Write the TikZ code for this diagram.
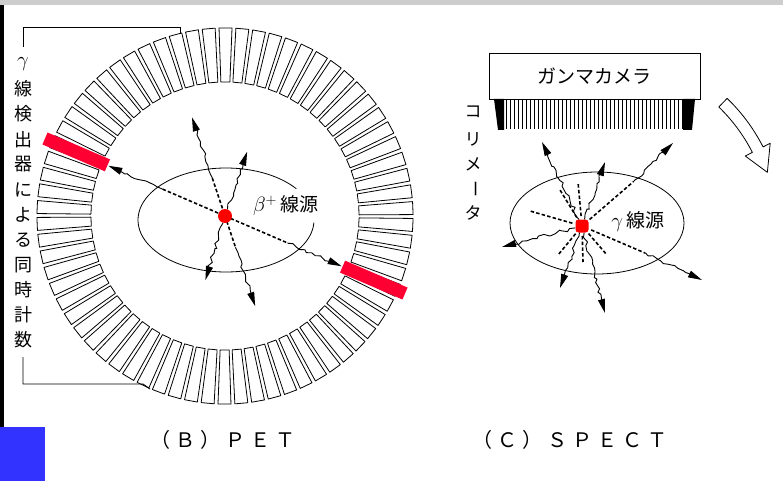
\documentclass[tikz,border=0pt]{standalone}
\usepackage{fontspec}
\newfontfamily\jp{Noto Sans CJK JP}
\newfontfamily\jpwide[LetterSpace=25]{Noto Sans CJK JP}
\usetikzlibrary{calc,decorations.pathmorphing,arrows.meta}
\definecolor{detred}{RGB}{255,0,51}
\definecolor{cornerblue}{RGB}{51,51,255}
\definecolor{stripgray}{RGB}{205,205,205}
\tikzset{
  module/.style={draw, line width=0.8pt, fill=white, line join=round},
  wavy/.style={decorate, line width=0.9pt,
    decoration={random steps, segment length=4pt, amplitude=1.8pt,
      pre=lineto, pre length=1pt, post=lineto, post length=12pt}},
  ray/.style={wavy, -{Triangle[length=14pt,width=7pt]}},
  dashray/.style={line width=1.6pt, dash pattern=on 3.5pt off 2.2pt},
  outline/.style={line width=0.8pt},
  vchar/.style={font=\jp\fontsize{18}{18}\selectfont, inner sep=0pt},
  caption/.style={font=\jpwide\fontsize{20}{20}\selectfont, inner sep=0pt},
}
\begin{document}
\begin{tikzpicture}[x=1pt,y=-1pt]
\useasboundingbox (0,0) rectangle (783,481);
\pgfmathsetseed{11}

% page furniture
\fill[stripgray] (0,0) rectangle (783,5);
\fill[black] (0,5) rectangle (4,427);
\fill[cornerblue] (0,427) rectangle (45,481);

% ================= PET =================
\coordinate (S) at (225,216);

% detector ring
\foreach \i in {0,...,69}{
  \pgfmathsetmacro\ang{2.73+\i*5.142857}
  \draw[module] ($(S)+(\ang:134)+(\ang+90:4.5)$) -- ($(S)+(\ang:188)+(\ang+90:6.5)$)
     -- ($(S)+(\ang:188)+(\ang-90:6.5)$) -- ($(S)+(\ang:134)+(\ang-90:4.5)$) -- cycle;
}

% coincident detectors
\foreach \ang in {23.3,203.3}{
  \fill[detred] ($(S)+(\ang:128)+(\ang+90:6.5)$) -- ($(S)+(\ang:196)+(\ang+90:6.5)$)
     -- ($(S)+(\ang:196)+(\ang-90:6.5)$) -- ($(S)+(\ang:128)+(\ang-90:6.5)$) -- cycle;
}

% source region
\draw[outline] plot[domain=3:323, samples=90, smooth] ({226+88*cos(\x)},{220+52*sin(\x)});

% annihilation pair
\coordinate (pa1) at ($(S)+(203.3:68)$);
\coordinate (pa2) at ($(S)+(23.3:68)$);
\coordinate (ta1) at ($(S)+(203.3:127)$);
\coordinate (ta2) at ($(S)+(23.3:127)$);
\draw[dashray] (pa1) -- (pa2);
\draw[ray] (pa1) -- (ta1);
\draw[ray] (pa2) -- (ta2);

% second pair
\coordinate (pb1) at ($(S)+(251.5:40)$);
\coordinate (pb2) at ($(S)+(71.5:33)$);
\coordinate (tb1) at ($(S)+(251.5:104)$);
\coordinate (tb2) at ($(S)+(71.5:95)$);
\draw[dashray] (pb1) -- (pb2);
\draw[ray] (pb1) -- (tb1);
\draw[ray] (pb2) -- (tb2);

% third pair
\coordinate (pc1) at ($(S)+(289:7)$);
\coordinate (pc2) at ($(S)+(107:7)$);
\coordinate (tc1) at ($(S)+(289:68)$);
\coordinate (tc2) at ($(S)+(107:67)$);
\draw[ray] (pc1) -- (tc1);
\draw[ray] (pc2) -- (tc2);

\node[circle, fill=red, minimum size=14pt, inner sep=0pt] (src) at (S) {};
\node[inner sep=0pt] (betalbl) at (286,206)
  {\fontsize{22}{22}\selectfont$\beta^{+}$\,{\jp\fontsize{19}{19}\selectfont 線源}};

% bracket and vertical label
\coordinate (bk1) at (23,47);
\coordinate (bk2) at (23,27);
\coordinate (bk3) at (180,27);
\coordinate (bk4) at (180,34);
\draw[line width=0.9pt] (bk1) -- (bk2) -- (bk3) -- (bk4);
\coordinate (bk5) at (23,357);
\coordinate (bk6) at (23,384);
\coordinate (bk7) at (143,384);
\coordinate (bk8) at (150,389);
\draw[line width=0.9pt] (bk5) -- (bk6) -- (bk7) -- (bk8);
\node[inner sep=0pt] (vg) at (23,64) {\fontsize{20}{20}\selectfont$\gamma$};
\foreach \c [count=\k] in {線,検,出,器,に,よ,る,同,時,計,数}{
  \node[vchar] (v\k) at (23,{64+25.1*\k}) {\c};
}

\node[caption] (capB) at (223,440) {（Ｂ）ＰＥＴ};

% ================= SPECT =================
\coordinate (T) at (582,226);

% gamma camera and collimator
\node[draw, line width=0.9pt, minimum width=211pt, minimum height=46pt,
  inner sep=0pt, font=\jp\fontsize{19}{19}\selectfont] (cam) at (594.5,76) {ガンマカメラ};
\fill[black] (494,99) -- (504,99) -- (504,130) -- (498,130) -- cycle;
\fill[black] (683,99) -- (695,99) -- (692,130) -- (683,130) -- cycle;
\foreach \i in {0,...,44}{
  \draw[line width=0.6pt] ({506+4*\i},99) -- ({506+4*\i},129);
}
\foreach \c/\yy in {コ/112,リ/139,メ/164}{
  \node[vchar, font=\jp\fontsize{17}{17}\selectfont] at (473,\yy) {\c};
}
\node[vchar, font=\jp\fontsize{17}{17}\selectfont, rotate=-90] (colbar) at (473,189) {ー};
\node[vchar, font=\jp\fontsize{17}{17}\selectfont] (colend) at (473,213) {タ};

% rotation arrow
\draw[line width=0.8pt, fill=white, line join=round]
  plot[domain=-46:-27, samples=30] ({600+183*cos(\x)},{230+183*sin(\x)})
  -- ({600+191*cos(-27)},{230+191*sin(-27)})
  -- ({600+177*cos(-19)},{230+177*sin(-19)})
  -- ({600+163*cos(-27)},{230+163*sin(-27)})
  -- plot[domain=-27:-46, samples=30] ({600+171*cos(\x)},{230+171*sin(\x)})
  -- cycle;

% source region
\draw[outline] (597,223) ellipse[x radius=87, y radius=51];

% short tracks
\foreach \ex/\ey [count=\k] in {578/182,560/190,633/182,530/211,558/255,583/262,607/255,645/253}{
  \coordinate (d\k) at (\ex,\ey);
  \draw[dashray] ($(T)!10pt!(d\k)$) -- (d\k);
}
\coordinate (e3) at (673,143);
\coordinate (e8) at (702,280);
\draw[ray] (d3) -- (e3);
\draw[ray] (d8) -- (e8);

% emitted photons
\foreach \ex/\ey [count=\k] in {542/142,605/162,502/247,560/288,605/313}{
  \coordinate (g\k) at (\ex,\ey);
  \draw[ray] ($(T)!7pt!(g\k)$) -- (g\k);
}

\node[fill=red, minimum size=13pt, inner sep=0pt, rounded corners=3pt] (src2) at (T) {};
\node[inner sep=0pt] (gamlbl) at (638,222)
  {\fontsize{21}{21}\selectfont$\gamma$\,{\jp\fontsize{19}{19}\selectfont 線源}};

\node[caption] (capC) at (570,440) {（Ｃ）ＳＰＥＣＴ};
\end{tikzpicture}
\end{document}
